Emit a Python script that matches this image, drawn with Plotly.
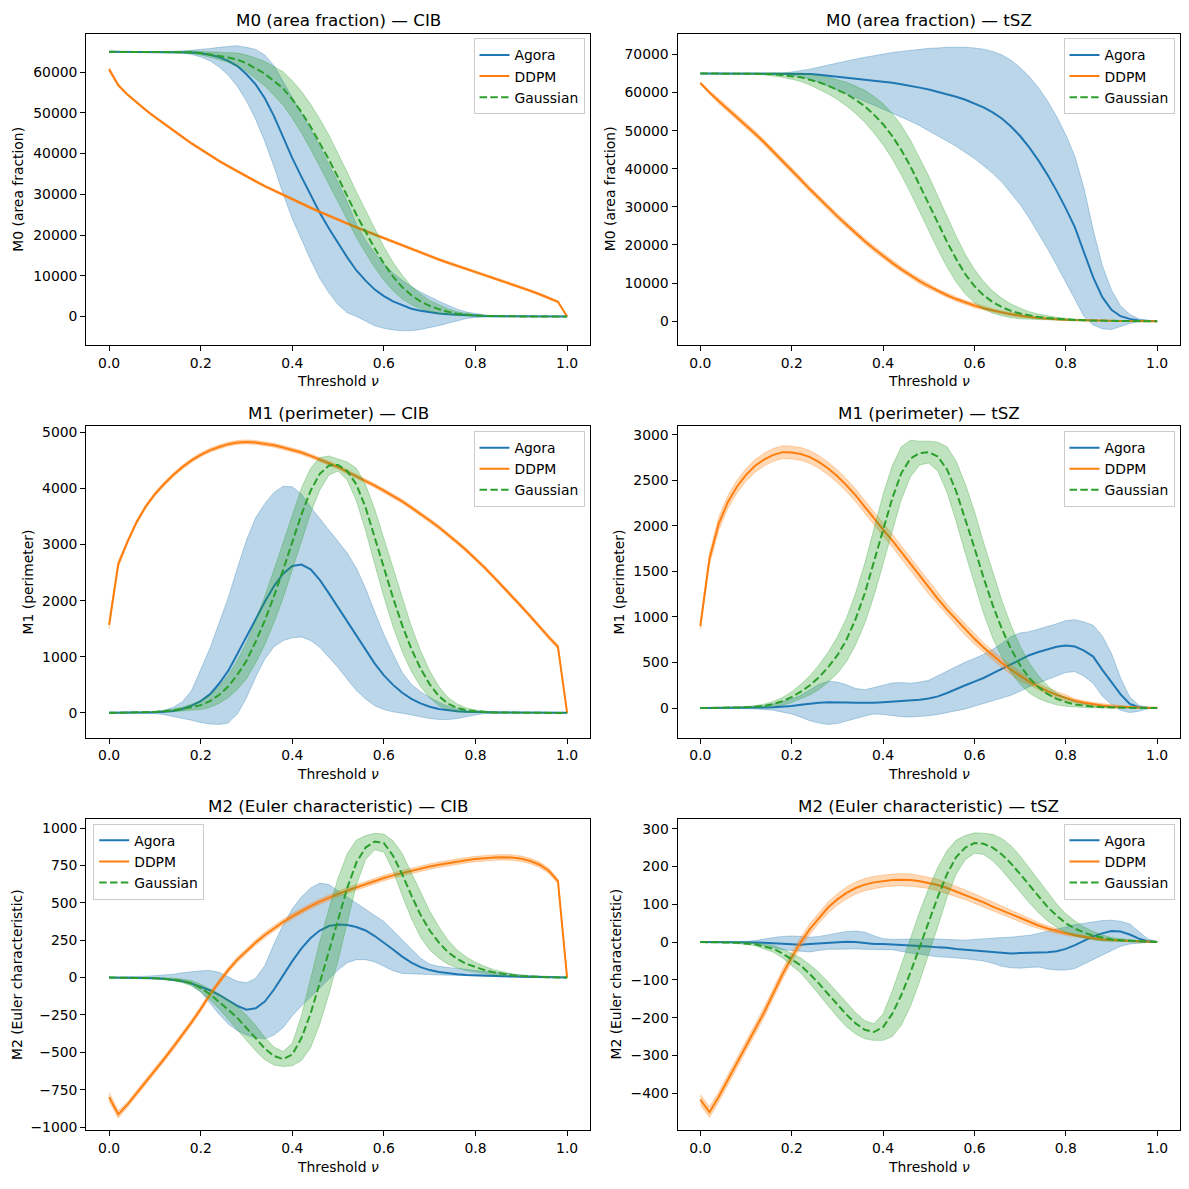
import numpy as np
import plotly.graph_objects as go
from plotly.subplots import make_subplots

# ---------------- data (thresholds 0.00 ... 1.00, step 0.02) ----------------
THRESHOLDS = np.linspace(0.0, 1.0, 51)
SERIES_NAMES = ["Agora", "DDPM", "Gaussian"]

# ---- Panel 1 : M0 (area fraction) - CIB ----
M0_CIB_AGORA_MEAN = [65000, 65000, 65000, 65000, 65000, 65000, 65000, 65000,
                     64950, 64850, 64650, 64300, 63700, 62800, 61500, 59500, 57000, 53600,
                     49200, 43900, 38900, 34300, 29900, 25500, 21600, 17900, 14500, 11300,
                     8800, 6600, 5000, 3700, 2700, 1900, 1400, 1000, 750, 550,
                     400, 300, 200, 130, 80, 50, 30, 20, 10, 5, 3, 1, 0]
M0_CIB_AGORA_STD = [0, 0, 0, 10, 20, 30, 50,
                    100, 250, 500, 900, 1500, 2400, 3500, 5000, 6600, 8600, 10600,
                    12400, 13800, 14900, 15500, 16000, 16200, 15800, 15000, 13600, 11300,
                    10000, 8900, 7900, 7000, 6200, 5400, 4600, 3800, 3000, 2200,
                    1400, 800, 450, 250, 150, 100, 60, 40, 20, 10, 5, 2, 0]
M0_CIB_DDPM_MEAN = [60700, 56800, 54500, 52500, 50700, 49000, 47300, 45700, 44100, 42500,
                    41000, 39600, 38200, 36900, 35600, 34400, 33200, 32000, 30900, 29800,
                    28700, 27700, 26700, 25700, 24700, 23700, 22800, 21900, 21000,
                    20100, 19200, 18300, 17400, 16550, 15700, 14850, 14000, 13200, 12400,
                    11650, 10900, 10150, 9400, 8650, 7900, 7100, 6300, 5450, 4550, 3600, 0]
M0_CIB_DDPM_STD = [500, 400] + [300] * 47 + [250, 0]
M0_CIB_GAUSS_MEAN = [65000, 65000, 65000, 65000, 65000, 65000, 65000, 65000,
                     64950, 64900, 64700, 64400, 64000, 63600, 63100, 62200, 61000, 59600,
                     57800, 56000, 53300, 50200, 46600, 42700, 38500, 34100, 29500, 25000,
                     20800, 16700, 13000, 9800, 7200, 5200, 3700, 2600, 1800, 1150,
                     700, 420, 250, 150, 80, 40, 20, 10, 5, 2, 1, 0, 0]
M0_CIB_GAUSS_STD = [0, 0, 0, 20, 40, 60, 100,
                    150, 200, 300, 450, 650, 900, 1200, 1600, 2000, 2500,
                    3000, 3500, 4100, 4600, 5100, 5500, 5800, 6000, 6000, 5900,
                    5600, 5200, 4700, 4100, 3500, 2900, 2300, 1800, 1350, 1000,
                    700, 450, 300, 180, 100, 60, 30, 15, 8, 4, 2, 1, 0, 0]

# ---- Panel 2 : M0 (area fraction) - tSZ ----
M0_TSZ_AGORA_MEAN = [65000] * 11 + [
    64950, 64850, 64700, 64450, 64200, 63950, 63700, 63450, 63200, 62900,
    62600, 62200, 61800, 61300, 60800, 60200, 59600, 58900, 58100, 57200,
    56100, 54800, 53200, 51100, 48600, 45600, 42200, 38400, 34200, 29600,
    24600, 18000, 11500, 6300, 3000, 1300, 600, 200, 50, 0]
M0_TSZ_AGORA_STD = [0, 0, 0, 0, 0, 0, 20, 40, 80,
                    150, 400, 800, 1300, 2000, 2800, 3600, 4400, 5100, 5800,
                    6500, 7200, 7900, 8600, 9300, 10000, 10800, 11500, 12300, 13000,
                    13800, 14500, 15300, 16000, 16700, 17400, 18000, 18600, 19100, 19400,
                    19500, 19300, 18600, 16800, 12500, 8300, 5200, 2700, 1200, 400, 100, 0]
M0_TSZ_DDPM_MEAN = [62500, 60000, 57800, 55700, 53600, 51500, 49200, 46900, 44500, 42000,
                    39600, 37100, 34600, 32200, 29800, 27500, 25300, 23100, 21000, 19000,
                    17100, 15300, 13600, 12000, 10500, 9200, 7900, 6800, 5800, 4900,
                    4100, 3400, 2800, 2300, 1800, 1400, 1100, 850, 650, 500,
                    380, 280, 200, 140, 100, 70, 45, 30, 15, 5, 0]
M0_TSZ_DDPM_STD = [300, 450] + [700] * 19 + [650] * 5 + [550] * 5 + [400] * 5 + \
                  [250] * 5 + [120] * 5 + [40, 30, 20, 10, 0]
M0_TSZ_GAUSS_MEAN = [65000] * 7 + [
    64900, 64800, 64600, 64300, 64000, 63400, 62700, 61800, 60800, 59600,
    58100, 56400, 54200, 51700, 48600, 44900, 40600, 35800, 30900, 25800,
    20800, 16300, 12300, 9200, 6800, 5000, 3700, 2700, 2000, 1500,
    1100, 800, 600, 450, 320, 220, 150, 100, 60, 40,
    20, 10, 5, 0]
M0_TSZ_GAUSS_STD = [0, 0, 0, 20, 40, 60,
                    150, 250, 400, 600, 800, 1100, 1400, 1800, 2200, 2600,
                    3100, 3600, 4200, 4800, 5400, 6000, 6500, 6900, 7100, 7200,
                    7000, 6600, 6000, 5200, 4400, 3600, 2900, 2300, 1800, 1400,
                    1000, 750, 550, 400, 300, 200, 140, 90, 60, 30,
                    20, 10, 5, 2, 0]

# ---- Panel 3 : M1 (perimeter) - CIB ----
M1_CIB_AGORA_MEAN = [5, 5, 5, 6, 8,
                     12, 20, 35, 70, 130, 210, 330, 520, 750, 1050,
                     1360, 1680, 1980, 2260, 2480, 2620, 2645, 2560, 2370, 2130,
                     1880, 1620, 1360, 1110, 880, 670, 500, 360, 250, 170,
                     110, 70, 45, 30, 20, 14, 10, 8, 7, 6,
                     5, 5, 5, 5, 5, 5]
M1_CIB_AGORA_LO = [0, 0, 0, 0, 0,
                   -10, -30, -60, -100, -130, -170, -195, -205, -180, -20,
                   270, 640, 960, 1180, 1290, 1340, 1355, 1290, 1170, 990,
                   810, 600, 400, 250, 130, 60, 20, -5, -40, -70,
                   -100, -115, -118, -100, -65, -35, -10, 0, 0, 0,
                   0, 0, 0, 0, 0, 0]
M1_CIB_AGORA_HI = [10, 10, 10, 12, 15,
                   25, 50, 100, 200, 400, 760, 1150, 1600, 2050, 2580,
                   3080, 3480, 3730, 3930, 4040, 4030, 3900, 3670, 3460, 3260,
                   3050, 2850, 2580, 2220, 1800, 1400, 1050, 720, 510, 380,
                   280, 190, 120, 70, 40, 25, 15, 12, 10, 10,
                   10, 10, 10, 10, 10, 10]
M1_CIB_DDPM_MEAN = [1570, 2650, 3050, 3400, 3680, 3900, 4080, 4240, 4380, 4500,
                    4600, 4680, 4740, 4790, 4820, 4830, 4820, 4800, 4770, 4730,
                    4690, 4640, 4580, 4520, 4450, 4380, 4300, 4220, 4140, 4050,
                    3960, 3870, 3770, 3660, 3550,
                    3430, 3310, 3180, 3040, 2900, 2750, 2590, 2420, 2250, 2080,
                    1900, 1720, 1530, 1350, 1180, 0]
M1_CIB_DDPM_STD = [80, 60] + [35] * 48 + [0]
M1_CIB_GAUSS_MEAN = [2, 3, 4, 6, 10, 18, 30, 45, 70, 100,
                     140, 210, 320, 470, 680, 930, 1270, 1650, 2080, 2550,
                     3050, 3540, 3960, 4260, 4410, 4420, 4310, 4070, 3660, 3140,
                     2590, 2050, 1560, 1140, 790, 510, 300, 165, 90, 50,
                     28, 16, 10, 6, 4, 3, 2, 2, 1, 1, 0]
M1_CIB_GAUSS_STD = [2, 2, 3, 4, 6, 9, 14, 22, 35, 55,
                    80, 110, 150, 200, 260, 320, 380, 430, 470, 500,
                    500, 470, 400, 290, 170, 110, 160, 290, 410, 490,
                    520, 510, 470, 400, 320, 240, 170, 110, 70, 40,
                    25, 15, 10, 6, 4, 3, 2, 1, 1, 0, 0]

# ---- Panel 4 : M1 (perimeter) - tSZ ----
M1_TSZ_AGORA_MEAN = [0, 0, 0, 1, 1, 2, 4, 7, 10, 15,
                     22, 35, 48, 58, 65, 66, 62, 57, 55, 58,
                     63, 70, 76, 82, 90, 105, 128, 165, 210, 250,
                     290, 330, 380, 430, 480, 535, 580, 615, 645, 672,
                     688, 675, 630, 565, 420, 280, 150, 45, 10, 3, 0]
M1_TSZ_AGORA_LO = [0, 0, -1, -2, -4, -6, -10, -15, -25, -45,
                   -65, -100, -140, -165, -180, -170, -146, -115, -88, -65,
                   -70, -82, -95, -98, -92, -85, -70, -50, -35, -10,
                   20, 50, 80, 110, 140, 185, 235, 275, 315, 355,
                   390, 400, 350, 270, 130, 40, -25, -50, -35, -8, 0]
M1_TSZ_AGORA_HI = [2, 2, 3, 4, 6, 10, 15, 25, 45, 70,
                   100, 140, 200, 260, 295, 285, 255, 215, 200, 225,
                   250, 275, 280, 272, 285, 305, 355, 405, 455, 505,
                   545, 590, 645, 710, 785, 825, 838, 865, 895, 925,
                   960, 970, 945, 910, 790, 600, 330, 120, 30, 5, 0]
M1_TSZ_DDPM_MEAN = [900, 1640, 2020, 2260, 2430, 2560, 2660, 2730, 2780, 2810,
                    2805, 2790, 2755, 2700, 2630, 2545, 2445, 2335, 2210, 2080,
                    1960, 1840, 1710, 1580, 1450, 1320, 1200, 1080, 970, 860,
                    760, 665, 575, 495, 420, 350, 290, 235, 185, 145,
                    110, 80, 58, 40, 28, 18, 12, 8, 5, 3, 2]
M1_TSZ_DDPM_STD = [40, 60] + [70] * 24 + [60] * 5 + [50] * 5 + [35] * 5 + \
                  [20] * 5 + [10, 6, 4, 2, 1]
M1_TSZ_GAUSS_MEAN = [0, 1, 2, 3, 5, 8, 15, 25, 45, 75,
                     120, 180, 250, 340, 450, 580, 750, 980, 1260, 1600,
                     1960, 2300, 2580, 2740, 2800, 2810, 2760, 2620, 2380, 2080,
                     1760, 1430, 1130, 870, 650, 470, 330, 230, 155, 100,
                     65, 40, 25, 15, 10, 6, 4, 2, 1, 1, 0]
M1_TSZ_GAUSS_STD = [0, 1, 2, 3, 5, 8, 12, 18, 28, 42,
                    60, 80, 105, 135, 165, 200, 240, 285, 330, 370,
                    385, 360, 290, 200, 130, 120, 160, 250, 330, 380,
                    400, 390, 360, 310, 260, 210, 165, 125, 90, 65,
                    45, 30, 20, 12, 8, 5, 3, 2, 1, 1, 0]

# ---- Panel 5 : M2 (Euler characteristic) - CIB ----
M2_CIB_AGORA_MEAN = [0, 0, -1, -2, -3, -5, -8, -14, -25, -40,
                     -62, -85, -115, -150, -190, -215, -205, -160, -80, 15,
                     110, 195, 265, 315, 345, 355, 352, 338, 315, 278,
                     235, 188, 140, 100, 70, 50, 38, 28, 22, 18,
                     15, 12, 10, 8, 7, 6, 5, 4, 3, 2, 1]
M2_CIB_AGORA_LO = [-1, -2, -4, -5, -7, -10, -14, -18, -22, -50,
                   -95, -170, -245, -310, -355, -385, -402, -410, -385, -335,
                   -255, -190, -130, -65, -5, 50, 100, 120, 120, 105,
                   75, 45, 28, 24, 22, 20, 18, 16, 14, 12,
                   10, 9, 8, 7, 6, 5, 4, 3, 2, 1, 0]
M2_CIB_AGORA_HI = [1, 2, 4, 6, 9, 13, 17, 22, 32, 40,
                   45, 48, 35, 5, -25, -35, -5, 80, 225, 352,
                   460, 540, 600, 632, 622, 580, 540, 500, 460, 420,
                   375, 315, 255, 195, 130, 90, 75, 68, 60, 54,
                   48, 42, 35, 28, 22, 18, 14, 10, 7, 4, 2]
M2_CIB_DDPM_MEAN = [-800, -915, -850, -775, -700, -625, -545, -465, -385, -300,
                    -210, -115, -30, 50, 120, 180, 235, 285, 330, 372,
                    410, 445, 478, 508, 535, 560, 583, 605, 627, 647,
                    666, 684, 700, 716, 730, 743, 755, 766, 776, 785,
                    793, 799, 803, 805, 803, 795, 780, 755, 715, 645, 0]
M2_CIB_DDPM_STD = [30, 25] + [18] * 47 + [15, 0]
M2_CIB_GAUSS_MEAN = [0, 0, -1, -1, -2, -4, -7, -12, -22, -38,
                     -70, -111, -160, -215, -270, -335, -405, -475, -525, -545,
                     -515, -405, -240, -35, 175, 390, 600, 770, 870, 910,
                     900, 815, 690, 550, 420, 315, 235, 170, 125, 92,
                     70, 50, 35, 24, 16, 10, 6, 4, 2, 1, 0]
M2_CIB_GAUSS_STD = [1, 1, 1, 2, 2, 3, 5, 8, 12, 18,
                    26, 36, 50, 65, 78, 85, 85, 75, 60, 50,
                    75, 150, 230, 275, 285, 275, 230, 150, 80, 55,
                    60, 100, 140, 155, 150, 130, 105, 80, 60, 45,
                    33, 25, 18, 12, 8, 5, 3, 2, 1, 1, 0]

# ---- Panel 6 : M2 (Euler characteristic) - tSZ ----
M2_TSZ_AGORA_MEAN = [0, 0, 0, 0, 0, 0, -1, -2, -3, -5,
                     -6, -7, -5, -3, -1, 1, 1, 0, -3, -5,
                     -5, -6, -8, -10, -11, -12, -14, -15, -18, -20,
                     -22, -24, -27, -29, -30, -29, -28, -28, -27, -24,
                     -18, -8, 4, 15, 23, 29, 28, 20, 9, 2, 0]
M2_TSZ_AGORA_LO = [0, 0, 0, -1, -1, -2, -4, -10, -16, -20,
                   -22, -24, -26, -22, -19, -19, -18, -18, -19, -20,
                   -20, -20, -25, -29, -32, -36, -39, -40, -41, -44,
                   -47, -50, -56, -64, -68, -69, -67, -66, -71, -74,
                   -74, -70, -58, -46, -35, -22, -11, -5, -2, -1, 0]
M2_TSZ_AGORA_HI = [0, 0, 0, 1, 1, 2, 4, 9, 12, 15,
                   16, 15, 13, 15, 19, 24, 28, 29, 26, 17,
                   9, 7, 8, 8, 7, 9, 8, 7, 5, 5,
                   7, 9, 10, 12, 13, 15, 18, 23, 28, 34,
                   40, 46, 50, 54, 57, 58, 55, 48, 28, 8, 2]
M2_TSZ_DDPM_MEAN = [-417, -450, -410, -365, -320, -276, -230, -185, -135, -85,
                    -40, 0, 35, 65, 92, 113, 130, 143, 152, 158,
                    162, 164, 165, 164, 161, 157, 151, 143, 134, 125,
                    115, 105, 94, 84, 73, 62, 53, 44, 36, 29,
                    23, 18, 13, 10, 7, 5, 4, 3, 2, 1, 0]
M2_TSZ_DDPM_STD = [14, 14, 13, 13, 13, 13, 13, 13, 13, 13,
                   13, 13, 14, 14, 15, 15, 16, 16, 16, 16,
                   16, 16, 16, 16, 15, 15, 15, 14, 14, 13,
                   13, 12, 12, 11, 10, 10, 9, 8, 7, 6,
                   5, 4, 4, 3, 3, 2, 2, 1, 1, 1, 0]
M2_TSZ_GAUSS_MEAN = [0, 0, 0, -1, -2, -3, -6, -12, -18, -30,
                     -45, -62, -85, -110, -138, -165, -192, -215, -232, -238,
                     -225, -190, -140, -80, -12, 55, 120, 180, 225, 250,
                     262, 260, 250, 232, 208, 180, 150, 120, 93, 70,
                     50, 36, 25, 17, 11, 7, 5, 3, 2, 1, 0]
M2_TSZ_GAUSS_STD = [0, 0, 1, 1, 2, 3, 4, 6, 9, 12,
                    16, 20, 25, 29, 32, 33, 32, 28, 24, 22,
                    35, 60, 80, 90, 92, 88, 78, 62, 45, 32,
                    27, 28, 35, 42, 47, 48, 46, 42, 37, 31,
                    25, 20, 15, 11, 8, 5, 4, 3, 2, 1, 0]

PANEL_TITLES = ["M0 (area fraction) — CIB", "M0 (area fraction) — tSZ",
                "M1 (perimeter) — CIB", "M1 (perimeter) — tSZ",
                "M2 (Euler characteristic) — CIB", "M2 (Euler characteristic) — tSZ"]
Y_LABELS = ["M0 (area fraction)", "M0 (area fraction)",
            "M1 (perimeter)", "M1 (perimeter)",
            "M2 (Euler characteristic)", "M2 (Euler characteristic)"]
X_LABEL = "Threshold <i>ν</i>"
X_TICKS = [0.0, 0.2, 0.4, 0.6, 0.8, 1.0]


def band_from_std(mean, std):
    m = np.asarray(mean, dtype=float)
    s = np.asarray(std, dtype=float)
    return m - s, m + s


PANEL_DATA = [
    [(M0_CIB_AGORA_MEAN, *band_from_std(M0_CIB_AGORA_MEAN, M0_CIB_AGORA_STD)),
     (M0_CIB_DDPM_MEAN, *band_from_std(M0_CIB_DDPM_MEAN, M0_CIB_DDPM_STD)),
     (M0_CIB_GAUSS_MEAN, *band_from_std(M0_CIB_GAUSS_MEAN, M0_CIB_GAUSS_STD))],
    [(M0_TSZ_AGORA_MEAN, *band_from_std(M0_TSZ_AGORA_MEAN, M0_TSZ_AGORA_STD)),
     (M0_TSZ_DDPM_MEAN, *band_from_std(M0_TSZ_DDPM_MEAN, M0_TSZ_DDPM_STD)),
     (M0_TSZ_GAUSS_MEAN, *band_from_std(M0_TSZ_GAUSS_MEAN, M0_TSZ_GAUSS_STD))],
    [(M1_CIB_AGORA_MEAN, M1_CIB_AGORA_LO, M1_CIB_AGORA_HI),
     (M1_CIB_DDPM_MEAN, *band_from_std(M1_CIB_DDPM_MEAN, M1_CIB_DDPM_STD)),
     (M1_CIB_GAUSS_MEAN, *band_from_std(M1_CIB_GAUSS_MEAN, M1_CIB_GAUSS_STD))],
    [(M1_TSZ_AGORA_MEAN, M1_TSZ_AGORA_LO, M1_TSZ_AGORA_HI),
     (M1_TSZ_DDPM_MEAN, *band_from_std(M1_TSZ_DDPM_MEAN, M1_TSZ_DDPM_STD)),
     (M1_TSZ_GAUSS_MEAN, *band_from_std(M1_TSZ_GAUSS_MEAN, M1_TSZ_GAUSS_STD))],
    [(M2_CIB_AGORA_MEAN, M2_CIB_AGORA_LO, M2_CIB_AGORA_HI),
     (M2_CIB_DDPM_MEAN, *band_from_std(M2_CIB_DDPM_MEAN, M2_CIB_DDPM_STD)),
     (M2_CIB_GAUSS_MEAN, *band_from_std(M2_CIB_GAUSS_MEAN, M2_CIB_GAUSS_STD))],
    [(M2_TSZ_AGORA_MEAN, M2_TSZ_AGORA_LO, M2_TSZ_AGORA_HI),
     (M2_TSZ_DDPM_MEAN, *band_from_std(M2_TSZ_DDPM_MEAN, M2_TSZ_DDPM_STD)),
     (M2_TSZ_GAUSS_MEAN, *band_from_std(M2_TSZ_GAUSS_MEAN, M2_TSZ_GAUSS_STD))],
]

# ---------------- styling / layout ----------------
W = H = 1189
FONT = "DejaVu Sans"
LINE_COLORS = ["#1f77b4", "#ff7f0e", "#2ca02c"]
FILL_COLORS = ["rgba(31,119,180,0.3)", "rgba(255,127,14,0.3)", "rgba(44,160,44,0.3)"]
DASHES = ["solid", "solid", "7.5px,3.3px"]

COL_LEFT = [86.2, 677.5]
COL_RIGHT = [590.0, 1180.0]
ROW_TOP = [31.7, 426.7, 821.7]
ROW_BOT = [345.0, 740.0, 1135.0]
Y_RANGES = [[-7000, 69500], [-6250, 75500], [-440, 5110],
            [-325, 3095], [-1022, 1062], [-498, 326]]
Y_DTICKS = [10000, 10000, 1000, 500, 250, 100]
YLABEL_X = [18.5, 610.0, 27.5, 618.5, 16.5, 616.0]
LEGEND_SIDE = ["right", "right", "right", "right", "left", "right"]

fig = make_subplots(rows=3, cols=2)

for p in range(6):
    r, c = p // 2, p % 2
    leg = "legend" if p == 0 else f"legend{p + 1}"
    for s, (mean, lo, hi) in enumerate(PANEL_DATA[p]):
        fig.add_trace(go.Scatter(
            x=THRESHOLDS, y=mean, mode="lines", name=SERIES_NAMES[s],
            line=dict(color=LINE_COLORS[s], width=2, dash=DASHES[s]),
            legend=leg, showlegend=True), row=r + 1, col=c + 1)
        fig.add_trace(go.Scatter(
            x=THRESHOLDS, y=lo, mode="lines",
            line=dict(color=FILL_COLORS[s], width=1),
            legend=leg, showlegend=False, hoverinfo="skip"), row=r + 1, col=c + 1)
        fig.add_trace(go.Scatter(
            x=THRESHOLDS, y=hi, mode="lines", fill="tonexty",
            fillcolor=FILL_COLORS[s],
            line=dict(color=FILL_COLORS[s], width=1),
            legend=leg, showlegend=False, hoverinfo="skip"), row=r + 1, col=c + 1)

axis_common = dict(showline=True, mirror=True, linecolor="black", linewidth=1,
                   ticks="outside", ticklen=5, tickwidth=1, tickcolor="black",
                   showgrid=False, zeroline=False,
                   tickfont=dict(family=FONT, size=13.9, color="black"))

annotations = []
layout_update = {}
for p in range(6):
    r, c = p // 2, p % 2
    xd = [COL_LEFT[c] / W, COL_RIGHT[c] / W]
    yd = [1 - ROW_BOT[r] / H, 1 - ROW_TOP[r] / H]
    xn = "xaxis" if p == 0 else f"xaxis{p + 1}"
    yn = "yaxis" if p == 0 else f"yaxis{p + 1}"
    layout_update[xn] = dict(axis_common, domain=xd, range=[-0.05, 1.05],
                             tickvals=X_TICKS, tickformat=".1f")
    layout_update[yn] = dict(axis_common, domain=yd, range=Y_RANGES[p],
                             tick0=0, dtick=Y_DTICKS[p], tickformat="d")
    cx = (COL_LEFT[c] + COL_RIGHT[c]) / 2 / W
    cy = 1 - (ROW_TOP[r] + ROW_BOT[r]) / 2 / H
    annotations.append(dict(text=PANEL_TITLES[p], x=cx, y=1 - (ROW_TOP[r] - 13.4) / H,
                            xref="paper", yref="paper", showarrow=False,
                            xanchor="center", yanchor="middle",
                            font=dict(family=FONT, size=16.7, color="black")))
    annotations.append(dict(text=X_LABEL, x=cx, y=1 - (ROW_BOT[r] + 36.7) / H,
                            xref="paper", yref="paper", showarrow=False,
                            xanchor="center", yanchor="middle",
                            font=dict(family=FONT, size=13.9, color="black")))
    annotations.append(dict(text=Y_LABELS[p], x=YLABEL_X[p] / W, y=cy,
                            xref="paper", yref="paper", showarrow=False,
                            textangle=-90, xanchor="center", yanchor="middle",
                            font=dict(family=FONT, size=13.9, color="black")))
    leg = "legend" if p == 0 else f"legend{p + 1}"
    if LEGEND_SIDE[p] == "right":
        lx, xa = (COL_RIGHT[c] - 5.5) / W, "right"
    else:
        lx, xa = (COL_LEFT[c] + 7.0) / W, "left"
    layout_update[leg] = dict(x=lx, xanchor=xa, y=1 - (ROW_TOP[r] + 5.0) / H,
                              yanchor="top", bgcolor="rgba(255,255,255,0.8)",
                              bordercolor="#cccccc", borderwidth=1,
                              traceorder="normal",
                              font=dict(family=FONT, size=13.9, color="black"),
                              tracegroupgap=0)

fig.update_layout(**layout_update)
fig.update_layout(width=W, height=H, margin=dict(l=0, r=0, t=0, b=0),
                  paper_bgcolor="white", plot_bgcolor="white",
                  font=dict(family=FONT, size=13.9, color="black"),
                  annotations=annotations)

fig.write_html("out.html")
